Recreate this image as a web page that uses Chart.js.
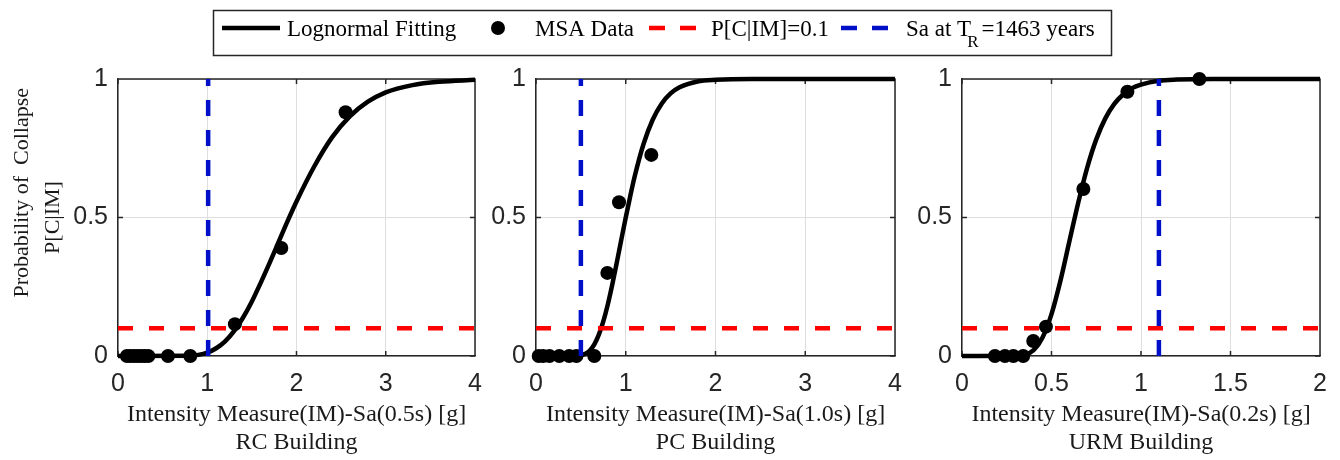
<!DOCTYPE html>
<html>
<head>
<meta charset="utf-8">
<script src="https://cdn.jsdelivr.net/npm/chart.js@4.4.0/dist/chart.umd.min.js"></script>
<style>
html,body{margin:0;padding:0;background:#fff;}
#wrap{position:relative;width:1340px;height:460px;overflow:hidden;background:#fff;}
#wrap canvas{position:absolute;left:0;top:0;}
</style>
</head>
<body>
<div id="wrap">
<canvas id="c1" width="1340" height="460"></canvas>
<canvas id="c2" width="1340" height="460"></canvas>
<canvas id="c3" width="1340" height="460"></canvas>
</div>
<script>
// ---------------- DATA ----------------
const legendLabels = ['Lognormal Fitting', 'MSA Data', 'P[C|IM]=0.1', 'Sa at T_R=1463 years'];
const yTitleLines = ['Probability of  Collapse', 'P[C|IM]'];
const collapseThreshold = 0.1;

// RC building
const rcTitle = ['Intensity Measure(IM)-Sa(0.5s) [g]', 'RC Building'];
const rcMsaX = [0.10, 0.14, 0.18, 0.22, 0.26, 0.30, 0.34, 0.56, 0.81, 1.31, 1.83, 2.55];
const rcMsaY = [0, 0, 0, 0, 0, 0, 0, 0, 0, 0.115, 0.39, 0.88];
const rcCurveX = [0, 0.8, 0.9, 1.0, 1.1, 1.2, 1.3, 1.4, 1.5, 1.6, 1.7, 1.8, 1.9, 2.0, 2.2, 2.4, 2.6, 2.8, 3.0, 3.3, 3.6, 4.0];
const rcCurveY = [0, 0.001, 0.004, 0.012, 0.028, 0.053, 0.09, 0.138, 0.197, 0.265, 0.337, 0.412, 0.487, 0.558, 0.685, 0.79, 0.866, 0.918, 0.952, 0.978, 0.99, 0.997];
const rcSaTR = 1.01;
const rcXTicks = [0, 1, 2, 3, 4];

// PC building
const pcTitle = ['Intensity Measure(IM)-Sa(1.0s) [g]', 'PC Building'];
const pcMsaX = [0.03, 0.08, 0.15, 0.26, 0.37, 0.45, 0.65, 0.795, 0.925, 1.285];
const pcMsaY = [0, 0, 0, 0, 0, 0, 0, 0.30, 0.555, 0.726];
const pcCurveX = [0, 0.5, 0.55, 0.6, 0.65, 0.7, 0.75, 0.8, 0.85, 0.9, 0.95, 1.0, 1.05, 1.1, 1.2, 1.3, 1.4, 1.5, 1.6, 1.8, 2.0, 2.4, 4.0];
const pcCurveY = [0, 0.003, 0.008, 0.02, 0.042, 0.077, 0.125, 0.186, 0.258, 0.337, 0.419, 0.5, 0.577, 0.649, 0.767, 0.853, 0.911, 0.948, 0.97, 0.991, 0.997, 1, 1];
const pcSaTR = 0.5;
const pcXTicks = [0, 1, 2, 3, 4];

// URM building
const urmTitle = ['Intensity Measure(IM)-Sa(0.2s) [g]', 'URM Building'];
const urmMsaX = [0.184, 0.24, 0.287, 0.342, 0.398, 0.469, 0.678, 0.924, 1.326];
const urmMsaY = [0, 0, 0, 0, 0.054, 0.106, 0.603, 0.954, 1.0];
const urmCurveX = [0, 0.3, 0.35, 0.4, 0.45, 0.5, 0.55, 0.6, 0.65, 0.7, 0.75, 0.8, 0.85, 0.9, 0.95, 1.0, 1.1, 1.2, 1.4, 2.0];
const urmCurveY = [0, 0.0005, 0.004, 0.021, 0.067, 0.151, 0.272, 0.414, 0.555, 0.681, 0.782, 0.857, 0.909, 0.944, 0.967, 0.98, 0.994, 0.998, 1, 1];
const urmSaTR = 1.10;
const urmXTicks = [0, 0.5, 1, 1.5, 2];

const yTicks = [0, 0.5, 1];

// ---------------- STYLE ----------------
const AXIS_COLOR = '#262626';
const GRID_COLOR = '#dedede';
const SERIF = '"Liberation Serif", "Times New Roman", serif';
const SANS = '"Liberation Sans", Arial, Helvetica, sans-serif';
const RED = '#ff0000';
const BLUE = '#0010c8';

const pts = (xs, ys) => xs.map((x, i) => ({x: x, y: ys[i]}));
const fmt = v => String(Math.round(v * 100) / 100);

// frame (top/right edges) and inward tick marks, MATLAB style
const framePlugin = {
  id: 'frame',
  beforeDatasetsDraw(chart) {
    const {ctx, chartArea: a, scales: {x, y}} = chart;
    ctx.save();
    ctx.strokeStyle = AXIS_COLOR;
    ctx.lineWidth = 1.5;
    ctx.beginPath();
    ctx.moveTo(a.left, a.top); ctx.lineTo(a.right, a.top); ctx.lineTo(a.right, a.bottom);
    const tl = 5;
    x.ticks.forEach(t => {
      const px = x.getPixelForValue(t.value);
      ctx.moveTo(px, a.bottom); ctx.lineTo(px, a.bottom - tl);
      ctx.moveTo(px, a.top); ctx.lineTo(px, a.top + tl);
    });
    y.ticks.forEach(t => {
      const py = y.getPixelForValue(t.value);
      ctx.moveTo(a.left, py); ctx.lineTo(a.left + tl, py);
      ctx.moveTo(a.right, py); ctx.lineTo(a.right - tl, py);
    });
    ctx.stroke();
    ctx.restore();
  }
};

// figure legend drawn across the top
const legendPlugin = {
  id: 'figLegend',
  afterDraw(chart) {
    const ctx = chart.ctx;
    ctx.save();
    ctx.strokeStyle = AXIS_COLOR;
    ctx.lineWidth = 1.5;
    ctx.setLineDash([]);
    ctx.strokeRect(213.5, 10.5, 898, 45);
    const cy = 28, base = 36;
    const font = '23px ' + SERIF;
    ctx.fillStyle = '#000';
    ctx.textBaseline = 'alphabetic';
    ctx.textAlign = 'left';
    // 1: solid line
    ctx.strokeStyle = '#000'; ctx.lineWidth = 4.5;
    ctx.beginPath(); ctx.moveTo(222, cy); ctx.lineTo(280, cy); ctx.stroke();
    ctx.font = font; ctx.fillText(legendLabels[0], 287, base);
    // 2: dot
    ctx.beginPath(); ctx.arc(498, cy, 7, 0, Math.PI * 2); ctx.fill();
    ctx.fillText(legendLabels[1], 535, base);
    // 3: red dashes
    ctx.strokeStyle = RED; ctx.lineWidth = 4.5; ctx.setLineDash([16, 15]);
    ctx.beginPath(); ctx.moveTo(649, cy); ctx.lineTo(696, cy); ctx.stroke();
    ctx.fillText(legendLabels[2], 711, base);
    // 4: blue dashes
    ctx.strokeStyle = BLUE;
    ctx.beginPath(); ctx.moveTo(841, cy); ctx.lineTo(888, cy); ctx.stroke();
    ctx.setLineDash([]);
    const lab = legendLabels[3];
    const k = lab.indexOf('_');
    const pre = lab.slice(0, k), sub = lab.charAt(k + 1), post = lab.slice(k + 2);
    let xx = 906;
    ctx.font = font; ctx.fillText(pre, xx, base);
    xx += ctx.measureText(pre).width - 4;
    ctx.font = '17px ' + SERIF; ctx.fillText(sub, xx, base + 11);
    xx += ctx.measureText(sub).width + 3;
    ctx.font = font; ctx.fillText(post, xx, base);
    ctx.restore();
  }
};

function makePanel(id, cfg) {
  const datasets = [
    { label: 'Sa at TR', data: [{x: cfg.sa, y: 0}, {x: cfg.sa, y: 1}], showLine: true, pointRadius: 0,
      borderColor: BLUE, borderWidth: 4.5, borderDash: [16, 14], clip: false },
    { label: 'P[C|IM]=0.1', data: [{x: 0, y: collapseThreshold}, {x: cfg.xMax, y: collapseThreshold}], showLine: true, pointRadius: 0,
      borderColor: RED, borderWidth: 4.5, borderDash: [15, 16], clip: false },
    { label: 'MSA Data', data: pts(cfg.msaX, cfg.msaY), showLine: false, pointRadius: 7,
      pointBackgroundColor: '#000', pointBorderColor: '#000', pointBorderWidth: 0, clip: false },
    { label: 'Lognormal Fitting', data: pts(cfg.curveX, cfg.curveY), showLine: true, pointRadius: 0,
      borderColor: '#000', borderWidth: 4.5, cubicInterpolationMode: 'monotone', clip: false }
  ];
  const plugins = [framePlugin];
  if (cfg.legend) plugins.push(legendPlugin);
  // leading spaces shift the first y-title line upward, as in the original figure
  const yTitle = ['         ' + yTitleLines[0], yTitleLines[1]];
  return new Chart(document.getElementById(id), {
    type: 'scatter',
    data: { datasets },
    plugins,
    options: {
      responsive: false,
      animation: false,
      devicePixelRatio: 1,
      events: [],
      layout: { padding: { left: cfg.padLeft, right: cfg.padRight, top: 79, bottom: 0 } },
      plugins: { legend: { display: false }, tooltip: { enabled: false } },
      scales: {
        x: {
          type: 'linear', min: 0, max: cfg.xMax,
          afterBuildTicks: s => { s.ticks = cfg.xTicks.map(v => ({value: v})); },
          afterFit: s => { s.height = 104; },
          grid: { color: GRID_COLOR, lineWidth: 1, drawTicks: false },
          border: { display: true, color: AXIS_COLOR, width: 1.5 },
          ticks: { padding: 13, color: AXIS_COLOR, font: { family: SANS, size: 25 }, maxRotation: 0, callback: fmt },
          title: { display: true, text: cfg.title, color: '#1a1a1a', padding: { top: 0, bottom: 3 },
                   font: { family: SERIF, size: 24, lineHeight: 28 / 24 } }
        },
        y: {
          type: 'linear', min: 0, max: 1,
          afterBuildTicks: s => { s.ticks = yTicks.map(v => ({value: v})); },
          afterFit: s => { s.width = cfg.yWidth; },
          grid: { color: GRID_COLOR, lineWidth: 1, drawTicks: false },
          border: { display: true, color: AXIS_COLOR, width: 1.5 },
          ticks: { padding: 10, color: AXIS_COLOR, font: { family: SANS, size: 25 }, callback: fmt },
          title: { display: !!cfg.yTitle, text: yTitle, color: '#1a1a1a', padding: { top: 6.5, bottom: 0 },
                   font: { family: SERIF, size: 22, lineHeight: 31 / 22 } }
        }
      }
    }
  });
}

makePanel('c1', { msaX: rcMsaX, msaY: rcMsaY, curveX: rcCurveX, curveY: rcCurveY, sa: rcSaTR,
  xMax: 4, xTicks: rcXTicks, title: rcTitle, padLeft: 0, padRight: 865, yWidth: 118, yTitle: true });
makePanel('c2', { msaX: pcMsaX, msaY: pcMsaY, curveX: pcCurveX, curveY: pcCurveY, sa: pcSaTR,
  xMax: 4, xTicks: pcXTicks, title: pcTitle, padLeft: 480, padRight: 445, yWidth: 56, legend: true });
makePanel('c3', { msaX: urmMsaX, msaY: urmMsaY, curveX: urmCurveX, curveY: urmCurveY, sa: urmSaTR,
  xMax: 2, xTicks: urmXTicks, title: urmTitle, padLeft: 905, padRight: 20, yWidth: 57 });
</script>
</body>
</html>
